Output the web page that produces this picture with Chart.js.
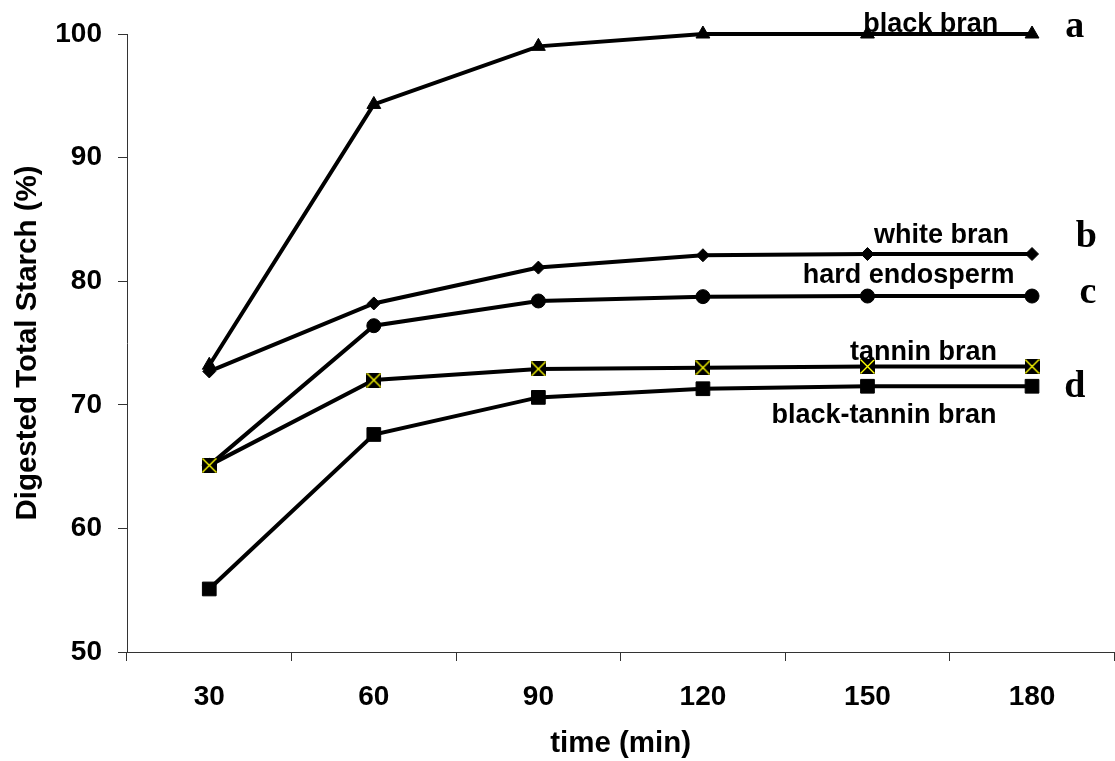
<!DOCTYPE html>
<html>
<head>
<meta charset="utf-8">
<script src="https://cdn.jsdelivr.net/npm/chart.js@4.4.1/dist/chart.umd.min.js"></script>
<style>
  html, body { margin: 0; padding: 0; overflow: hidden; background: #fff; }
  #wrap { position: absolute; left: 0; top: 0; width: 1125px; height: 761px; }
</style>
</head>
<body>
<div id="wrap"><canvas id="c" width="1125" height="761"></canvas></div>
<script>
// Digestion time (min)
const timeLabels = ['30', '60', '90', '120', '150', '180'];

// Digested total starch (%) for each sample
const blackBran       = [73.2, 94.3, 99.0, 100, 100, 100];
const whiteBran       = [72.7, 78.2, 81.1, 82.1, 82.2, 82.2];
const hardEndosperm   = [65.1, 76.4, 78.4, 78.75, 78.8, 78.8];
const tanninBran      = [65.1, 72.0, 72.9, 73.0, 73.1, 73.1];
const blackTanninBran = [55.1, 67.6, 70.6, 71.3, 71.5, 71.5];

// Value axis range
const yMin = 50, yMax = 100, yStep = 10;

// Series names written beside the curves, and the group letters
const seriesNames = ['black bran', 'white bran', 'hard endosperm', 'tannin bran', 'black-tannin bran'];
const groupLetters = ['a', 'b', 'c', 'd'];

const SANS = '"Liberation Sans", Arial, Helvetica, sans-serif';
const SERIF = '"Liberation Serif", "Times New Roman", serif';

// Black square crossed by a yellow X
function crossedSquare(size) {
  const cv = document.createElement('canvas');
  cv.width = size; cv.height = size;
  const g = cv.getContext('2d');
  g.fillStyle = '#000';
  g.fillRect(0, 0, size, size);
  g.strokeStyle = '#ffff00';
  g.lineWidth = 1.4;
  g.beginPath();
  g.moveTo(0.5, 0.5); g.lineTo(size - 0.5, size - 0.5);
  g.moveTo(size - 0.5, 0.5); g.lineTo(0.5, size - 0.5);
  g.stroke();
  return cv;
}

function series(label, data, style, radius) {
  return {
    label, data,
    borderColor: '#000', backgroundColor: '#000',
    borderWidth: 4, tension: 0, fill: false,
    pointStyle: style, pointRadius: radius, pointHoverRadius: radius,
    pointBorderColor: '#000', pointBackgroundColor: '#000', pointBorderWidth: 1,
    clip: false
  };
}

// Axis titles, curve names and letters
const textPlugin = {
  id: 'texts',
  afterDraw(chart) {
    const { ctx, chartArea: area, scales: { x: xs, y: ys } } = chart;
    const band = xs.width / timeLabels.length;
    const xAt = c => xs.left + (c + 0.5) * band;
    const yAt = v => ys.getPixelForValue(v);
    ctx.save();
    ctx.fillStyle = '#000';

    // curve names
    ctx.font = 'bold 27px ' + SANS;
    ctx.textAlign = 'center';
    ctx.textBaseline = 'alphabetic';
    const namePos = [[4.385, 100.16], [4.45, 83.09], [4.25, 79.85], [4.34, 73.62], [4.10, 68.53]];
    seriesNames.forEach((t, i) => ctx.fillText(t, xAt(namePos[i][0]), yAt(namePos[i][1])));

    // group letters
    ctx.font = 'bold 38px ' + SERIF;
    const letterPos = [[5.26, 99.76], [5.33, 82.77], [5.34, 78.24], [5.26, 70.63]];
    groupLetters.forEach((t, i) => ctx.fillText(t, xAt(letterPos[i][0]), yAt(letterPos[i][1])));

    // axis titles
    ctx.font = 'bold 29.5px ' + SANS;
    ctx.textBaseline = 'alphabetic';
    ctx.fillText('time (min)', (xs.left + xs.right) / 2, 752);
    ctx.save();
    ctx.translate(28, (area.top + area.bottom) / 2);
    ctx.rotate(-Math.PI / 2);
    ctx.textBaseline = 'middle';
    ctx.fillText('Digested Total Starch (%)', 0, 0);
    ctx.restore();
    ctx.restore();
  }
};

new Chart(document.getElementById('c'), {
  type: 'line',
  data: {
    labels: timeLabels,
    datasets: [
      series('black bran', blackBran, 'triangle', 8),
      series('white bran', whiteBran, 'rectRot', 6.5),
      series('tannin bran', tanninBran, crossedSquare(15), 7.5),
      series('hard endosperm', hardEndosperm, 'circle', 7),
      series('black-tannin bran', blackTanninBran, 'rect', 9.7)
    ]
  },
  options: {
    responsive: false,
    animation: false,
    events: [],
    layout: { padding: { left: 0, right: 8, top: 34, bottom: 0 } },
    plugins: { legend: { display: false }, tooltip: { enabled: false } },
    scales: {
      x: {
        type: 'category',
        offset: true,
        grid: { display: true, drawOnChartArea: false, drawTicks: true, tickLength: 9, color: '#333', offset: true, lineWidth: 1 },
        border: { display: true, color: '#333', width: 1 },
        ticks: { color: '#000', font: { family: SANS, size: 28, weight: 'bold' }, padding: 19, maxRotation: 0 },
        afterFit(s) { s.height = 109; }
      },
      y: {
        min: yMin, max: yMax,
        grid: { display: true, drawOnChartArea: false, drawTicks: true, tickLength: 9, color: '#333', lineWidth: 1 },
        border: { display: true, color: '#333', width: 1 },
        ticks: { stepSize: yStep, color: '#000', font: { family: SANS, size: 28, weight: 'bold' }, padding: 16 },
        afterFit(s) { s.width = 127; }
      }
    }
  },
  plugins: [textPlugin]
});
</script>
</body>
</html>
